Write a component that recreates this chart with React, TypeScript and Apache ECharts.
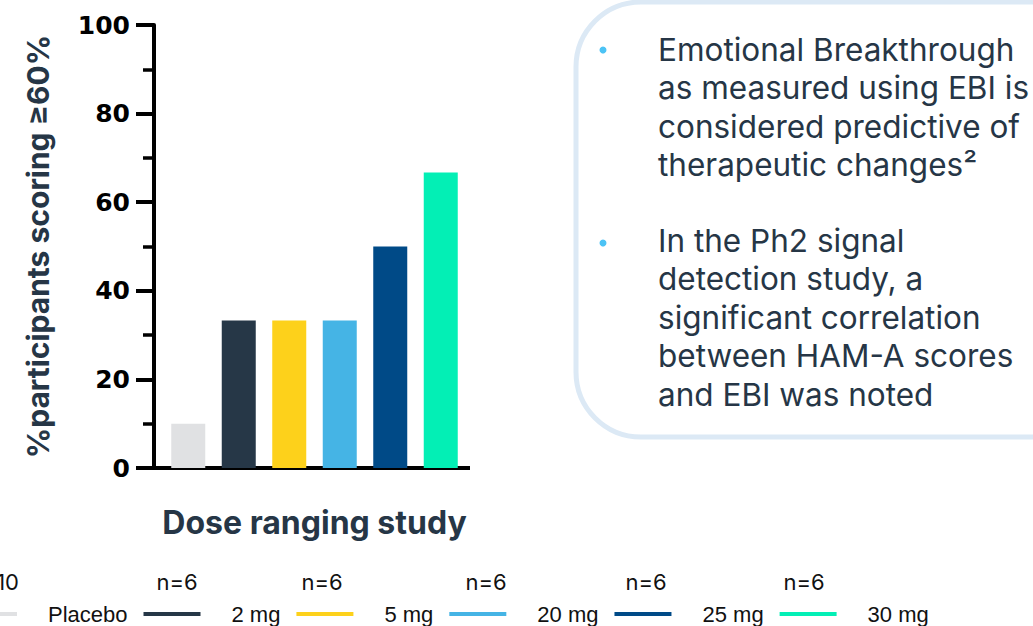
import React, { useEffect, useRef } from "react";
import * as echarts from "echarts";

const categories = ["Placebo", "2 mg", "5 mg", "20 mg", "25 mg", "30 mg"];
const values = [10, 33.3, 33.3, 33.3, 50, 66.7];
const colors = ["#e0e1e3", "#263747", "#fdd11b", "#45b4e5", "#004a87", "#03efb5"];
const nLabels = ["n=10", "n=6", "n=6", "n=6", "n=6", "n=6"];
const yTicks = [0, 20, 40, 60, 80, 100];
const bullets = [
  "Emotional Breakthrough\nas measured using EBI is\nconsidered predictive of\ntherapeutic changes²",
  "In the Ph2 signal\ndetection study, a\nsignificant correlation\nbetween HAM-A scores\nand EBI was noted",
];

const NAVY = "#263646";
const nLabelX = [19, 177, 322, 486, 646, 804];

export default function App() {
  const ref = useRef<HTMLDivElement>(null);
  useEffect(() => {
    document.body.style.margin = "0";
    const chart = echarts.init(ref.current!, null, { renderer: "svg" });
    const series = categories.map((name, i) => ({
      name,
      type: "bar",
      barWidth: 34,
      barGap: "-100%",
      itemStyle: { color: colors[i] },
      data: categories.map((_, j) => (j === i ? values[i] : "-")),
    }));
    const graphic: any[] = [
      {
        type: "rect",
        shape: { x: 576, y: 2, width: 520, height: 435, r: 65 },
        style: { fill: "none", stroke: "#dce9f5", lineWidth: 5 },
      },
      { type: "circle", shape: { cx: 603, cy: 50, r: 3.5 }, style: { fill: "#4cc3f5" } },
      { type: "circle", shape: { cx: 603, cy: 243, r: 3.5 }, style: { fill: "#4cc3f5" } },
      {
        type: "text",
        x: 658,
        y: 30,
        style: {
          text: bullets[0],
          fontFamily: "Inter",
          fontSize: 31.5,
          lineHeight: 38.5,
          fill: NAVY,
          verticalAlign: "top",
        },
      },
      {
        type: "text",
        x: 658,
        y: 221,
        style: {
          text: bullets[1],
          fontFamily: "Inter",
          fontSize: 31.5,
          lineHeight: 38.5,
          fill: NAVY,
          verticalAlign: "top",
        },
      },
      {
        type: "line",
        shape: { x1: 152, y1: 468, x2: 164, y2: 468 },
        style: { stroke: "#000", lineWidth: 4 },
      },
      {
        type: "line",
        shape: { x1: 465, y1: 468, x2: 470, y2: 468 },
        style: { stroke: "#000", lineWidth: 4 },
      },
      ...nLabels.map((t, i) => ({
        type: "text",
        x: nLabelX[i],
        y: 582,
        style: {
          text: t,
          fontFamily: "Inter",
          fontSize: 22,
          fill: "#111",
          align: i === 0 ? "right" : "center",
          verticalAlign: "middle",
        },
      })),
    ];
    chart.setOption({
      animation: false,
      grid: { left: 163, right: 567, top: 25, bottom: 158 },
      legend: {
        left: -40,
        top: 603,
        padding: 0,
        itemGap: 16,
        itemWidth: 57,
        itemHeight: 4,
        icon: "rect",
        selectedMode: false,
        data: categories,
        textStyle: {
          fontFamily: "Liberation Sans",
          fontSize: 22,
          color: "#111",
          padding: [0, 0, 0, 26],
        },
      },
      xAxis: {
        type: "category",
        data: categories,
        axisLine: { lineStyle: { color: "#000", width: 4 } },
        axisTick: { show: false },
        axisLabel: { show: false },
        name: "Dose ranging study",
        nameLocation: "middle",
        nameGap: 38,
        nameTextStyle: { fontFamily: "Inter", fontWeight: "bold", fontSize: 32, color: NAVY },
      },
      yAxis: {
        type: "value",
        min: yTicks[0],
        max: yTicks[yTicks.length - 1],
        interval: 20,
        offset: 9,
        axisLine: { show: true, lineStyle: { color: "#000", width: 4 } },
        axisTick: { show: true, length: 18, lineStyle: { color: "#000", width: 4 } },
        minorTick: { show: true, splitNumber: 2, length: 11, lineStyle: { color: "#000", width: 3.5 } },
        splitLine: { show: false },
        axisLabel: {
          margin: 24,
          fontFamily: "DejaVu Sans",
          fontWeight: "bold",
          fontSize: 25,
          color: "#000",
        },
        name: "%participants scoring ≥60%",
        nameLocation: "middle",
        nameGap: 101,
        nameTextStyle: { fontFamily: "Inter", fontWeight: "bold", fontSize: 30, color: NAVY },
      },
      series,
      graphic,
    });
    return () => chart.dispose();
  }, []);
  return (
    <div
      ref={ref}
      style={{ position: "absolute", left: 0, top: 0, width: 1033, height: 626 }}
    />
  );
}
